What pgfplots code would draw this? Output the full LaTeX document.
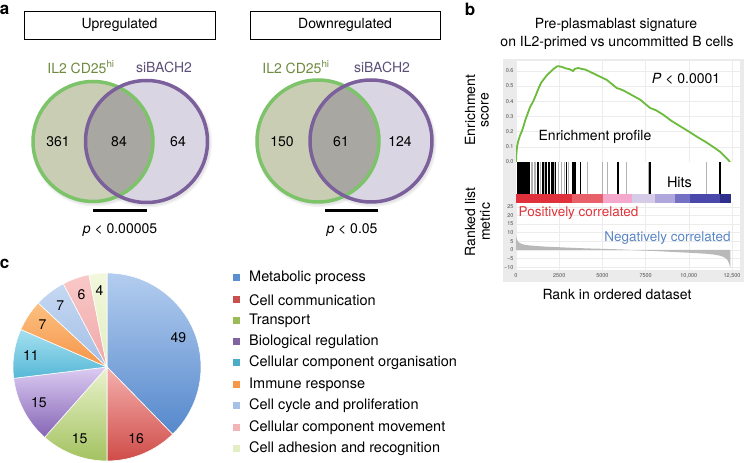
\documentclass[border=0pt]{standalone}
\usepackage{pgfplots}
\pgfplotsset{compat=1.18}
\usepackage{fontspec}
\setmainfont{TeX Gyre Heros}

\definecolor{vgreen}{HTML}{7DC36A}
\definecolor{vpurple}{HTML}{7B609C}
\definecolor{vgfill}{HTML}{C9CDB4}
\definecolor{vpfill}{HTML}{D9D5E3}
\definecolor{vint}{HTML}{A8A7A1}
\definecolor{iltext}{HTML}{6E8A3E}
\definecolor{sitext}{HTML}{5C5078}
\definecolor{esgreen}{HTML}{6CBB3C}
\definecolor{poscol}{HTML}{E0343A}
\definecolor{negcol}{HTML}{5A86C5}
\definecolor{framegray}{HTML}{EBEBEB}
% colour bar under the hits
\definecolor{cb1}{HTML}{E0303C}\definecolor{cb2}{HTML}{E8606A}
\definecolor{cb3}{HTML}{F4A8CC}\definecolor{cb4}{HTML}{D6CCE8}
\definecolor{cb5}{HTML}{B0A8DC}\definecolor{cb6}{HTML}{7470C4}
\definecolor{cb7}{HTML}{4A48AA}\definecolor{cb8}{HTML}{2E2E8C}
% pie: legend colour / light top / dark bottom
\definecolor{pA}{HTML}{5B8FD0}\definecolor{pAt}{HTML}{B3CDEF}\definecolor{pAb}{HTML}{5588CC}
\definecolor{pB}{HTML}{C9514D}\definecolor{pBt}{HTML}{F5B0AE}\definecolor{pBb}{HTML}{CF4C48}
\definecolor{pC}{HTML}{9BBB59}\definecolor{pCt}{HTML}{EAF3CD}\definecolor{pCb}{HTML}{A3C260}
\definecolor{pD}{HTML}{8064A2}\definecolor{pDt}{HTML}{DCCCF2}\definecolor{pDb}{HTML}{8565B5}
\definecolor{pE}{HTML}{4BACC6}\definecolor{pEt}{HTML}{A6E0F0}\definecolor{pEb}{HTML}{56B8D6}
\definecolor{pF}{HTML}{F79646}\definecolor{pFt}{HTML}{FCC080}\definecolor{pFb}{HTML}{F6954A}
\definecolor{pG}{HTML}{A7C0E8}\definecolor{pGt}{HTML}{C5D8F2}\definecolor{pGb}{HTML}{A4BFE6}
\definecolor{pH}{HTML}{F2B4B4}\definecolor{pHt}{HTML}{F9C8C8}\definecolor{pHb}{HTML}{F0A8A8}
\definecolor{pI}{HTML}{E4EEC4}\definecolor{pIt}{HTML}{F2F8DC}\definecolor{pIb}{HTML}{E2EDC0}

\newcommand\lab{\fontsize{14}{16}\selectfont}
\newcommand\leg{\fontsize{14.5}{16}\selectfont}
\newcommand\tickfont{\fontsize{5.5}{6}\selectfont}

% #1 genes before this slice, #2 genes in slice (total 130 -> 36/13 deg per gene)
\newcommand\slice[4]{%
  \path[draw=white, line width=0.6pt, top color=#3, bottom color=#4]
    (107,96) -- ++({90-#1*36/13}:94pt)
    arc[start angle={90-#1*36/13}, delta angle={-#2*36/13}, radius=94pt] -- cycle;
  \path (107,96) ++({90-(#1+#2/2)*36/13}:77pt) node[font=\lab] {#2};
}
\newcommand\legitem[3]{%
  \fill[#1] (233,#2-3.5) rectangle (240,#2+3.5);
  \node[font=\leg, anchor=west, inner sep=0pt] at (249,#2) {#3};
}
% colour bar segment from rank #1 to rank #2
\newcommand\cbar[3]{%
  \addplot[fill=#3, draw=none] coordinates {(#1,0) (#2,0) (#2,0.22) (#1,0.22)};
}
% soft shadow under a Venn circle: centre x, centre y, radius
\newcommand\vshadow[3]{%
  \fill[black, opacity=0.05] (#1+1.5,#2-2) circle[radius=#3+3pt];
  \fill[black, opacity=0.05] (#1+1.5,#2-2) circle[radius=#3+1.5pt];
}

\begin{document}
\begin{tikzpicture}[x=1pt,y=1pt]

\begin{axis}[at={(0pt,0pt)}, anchor=south west, scale only axis,
  width=745pt, height=463pt, xmin=0, xmax=745, ymin=0, ymax=463,
  hide axis, clip=false]

  % ---- panel a: upregulated
  \draw[line width=0.9pt] (24,452) rectangle (215,424);
  \node[font=\lab] at (119.5,438) {Upregulated};
  \vshadow{93}{321.5}{60pt}
  \vshadow{146.5}{321.5}{61pt}
  \fill[vgfill] (93,321.5) circle[radius=60pt];
  \fill[vpfill] (146.5,321.5) circle[radius=61pt];
  \begin{scope}
    \clip (93,321.5) circle[radius=60pt];
    \fill[vint] (146.5,321.5) circle[radius=61pt];
  \end{scope}
  \draw[vgreen, line width=3.5pt] (93,321.5) circle[radius=60pt];
  \draw[vpurple, line width=3.5pt] (146.5,321.5) circle[radius=61pt];
  \node[font=\lab, text=iltext] at (81,396) {IL2 CD25\textsuperscript{hi}};
  \node[font=\lab, text=sitext] at (164,396) {siBACH2};
  \node[font=\lab] at (58,321) {361};
  \node[font=\lab] at (119,321) {84};
  \node[font=\lab] at (178,321) {64};
  \draw[line width=3pt] (93,252) -- (147,252);
  \node[font=\lab] at (120,233) {\textit{p} < 0.00005};

  % ---- panel a: downregulated
  \draw[line width=0.9pt] (250,452) rectangle (440,424);
  \node[font=\lab] at (345,438) {Downregulated};
  \vshadow{318}{322}{61pt}
  \vshadow{371}{322}{61pt}
  \fill[vgfill] (318,322) circle[radius=61pt];
  \fill[vpfill] (371,322) circle[radius=61pt];
  \begin{scope}
    \clip (318,322) circle[radius=61pt];
    \fill[vint] (371,322) circle[radius=61pt];
  \end{scope}
  \draw[vgreen, line width=3.5pt] (318,322) circle[radius=61pt];
  \draw[vpurple, line width=3.5pt] (371,322) circle[radius=61pt];
  \node[font=\lab, text=iltext] at (296,396) {IL2 CD25\textsuperscript{hi}};
  \node[font=\lab, text=sitext] at (382,396) {siBACH2};
  \node[font=\lab] at (282,321) {150};
  \node[font=\lab] at (341,321) {61};
  \node[font=\lab] at (400,321) {124};
  \draw[line width=3pt] (325,252) -- (378,252);
  \node[font=\lab] at (352,233) {\textit{p} < 0.05};

  % ---- panel c: pie
  \slice{0}{49}{pAt}{pAb}
  \slice{49}{16}{pBt}{pBb}
  \slice{65}{15}{pCt}{pCb}
  \slice{80}{15}{pDt}{pDb}
  \slice{95}{11}{pEt}{pEb}
  \slice{106}{7}{pFt}{pFb}
  \slice{113}{7}{pGt}{pGb}
  \slice{120}{6}{pHt}{pHb}
  \slice{126}{4}{pIt}{pIb}

  \legitem{pA}{185}{Metabolic process}
  \legitem{pB}{163}{Cell communication}
  \legitem{pC}{142}{Transport}
  \legitem{pD}{121}{Biological regulation}
  \legitem{pE}{100}{Cellular component organisation}
  \legitem{pF}{78}{Immune response}
  \legitem{pG}{57}{Cell cycle and proliferation}
  \legitem{pH}{35}{Cellular component movement}
  \legitem{pI}{14}{Cell adhesion and recognition}

  % ---- panel b: frame
  \fill[framegray] (503,181) rectangle (744,404);
\end{axis}

% enrichment score
\begin{axis}[at={(516pt,301pt)}, anchor=south west, scale only axis,
  width=224pt, height=101pt, xmin=0, xmax=12960, ymin=0, ymax=0.664,
  axis background/.style={fill=white}, axis line style={draw=none},
  major tick length=0pt, grid=major, grid style={gray!15, line width=0.4pt},
  xtick={0,2500,5000,7500,10000,12500}, xticklabels={},
  ytick={0,0.1,0.2,0.3,0.4,0.5,0.6},
  yticklabel style={font=\tickfont, text=gray!60!black, xshift=1pt,
    /pgf/number format/fixed, /pgf/number format/fixed zerofill,
    /pgf/number format/precision=1, /pgf/number format/assume math mode=true}]
  \addplot[esgreen, line width=1.8pt, mark=none] coordinates {
    (0,0) (20,0.05) (60,0.1) (135,0.14) (250,0.18) (330,0.2) (450,0.24)
    (521,0.27) (650,0.31) (810,0.36) (1000,0.40) (1150,0.44) (1290,0.48)
    (1450,0.52) (1680,0.555) (1830,0.575) (1970,0.59) (2150,0.61)
    (2350,0.627) (2450,0.63) (2650,0.625) (2900,0.615) (3100,0.61)
    (3300,0.598) (3400,0.612) (3600,0.618) (3800,0.612) (4000,0.608)
    (4280,0.593) (4700,0.57) (5250,0.54) (5830,0.486) (6000,0.48)
    (6220,0.47) (6700,0.44) (7180,0.41) (7760,0.355) (8100,0.34)
    (8530,0.31) (9000,0.27) (9500,0.235) (10000,0.2) (10470,0.166)
    (11000,0.13) (11400,0.1) (11810,0.067) (12100,0.035) (12390,0)
  };
\end{axis}

% hits and ranked list colour bar
\begin{axis}[at={(516pt,260pt)}, anchor=south west, scale only axis,
  width=224pt, height=41pt, xmin=0, xmax=12960, ymin=0, ymax=1,
  axis background/.style={fill=white}, axis line style={draw=none}, ticks=none]
  \addplot[fill=black, draw=none] coordinates {(40,0) (810,0) (810,1) (40,1)};
  \addplot[ycomb, gray!60, line width=1pt, mark=none] coordinates {
    (887,1) (964,1) (1042,1) (1119,1) (1410,1) (1660,1) (2200,1) (2469,1)
    (2624,1) (2797,1) (3048,1) (4128,1) (4977,1) (5266,1) (6366,1)
    (7678,1) (11036,1)
  };
  \addplot[ycomb, black, line width=1.2pt, mark=none] coordinates {
    (1234,1) (1292,1) (1524,1) (1601,1) (1717,1) (1775,1) (1871,1)
    (1948,1) (2064,1) (2141,1) (2296,1) (2913,1) (3299,1) (3357,1)
    (3453,1) (3742,1) (5864,1) (5941,1) (7755,1) (11805,1)
  };
  \cbar{0}{3240}{cb1}
  \cbar{3240}{5054}{cb2}
  \cbar{5054}{6693}{cb3}
  \cbar{6693}{8044}{cb4}
  \cbar{8044}{9201}{cb5}
  \cbar{9201}{10069}{cb6}
  \cbar{10069}{11805}{cb7}
  \cbar{11805}{12424}{cb8}
\end{axis}

% ranked list metric
\begin{axis}[at={(516pt,193pt)}, anchor=south west, scale only axis,
  width=224pt, height=67pt, xmin=0, xmax=12960, ymin=-11.6, ymax=27.2,
  axis background/.style={fill=white}, axis line style={draw=none},
  major tick length=0pt, grid=major, grid style={gray!15, line width=0.4pt},
  xtick={0,2500,5000,7500,10000,12500}, ytick={-10,-5,0,5,10,15,20,25},
  yticklabels={−10,−5,0,5,10,15,20,25},
  scaled x ticks=false,
  xticklabel style={font=\tickfont, text=gray!60!black,
    /pgf/number format/1000 sep={,},
    /pgf/number format/min exponent for 1000 sep=4,
    /pgf/number format/assume math mode=true},
  yticklabel style={font=\tickfont, text=gray!60!black, xshift=1pt}]
  \addplot[fill=gray!55, draw=none, mark=none] coordinates {
    (0,0) (0,8) (30,7) (80,5.5) (150,4.5) (300,3.6) (500,3) (800,2.6)
    (1200,2.3) (1600,2.0) (2000,1.8) (2500,1.6) (3000,1.35) (3500,1.15)
    (4000,0.95) (4500,0.8) (5000,0.65) (5500,0.5) (6000,0.35) (6500,0.15)
    (6700,0) (7000,-0.2) (7500,-0.4) (8000,-0.6) (8500,-0.85) (9000,-1.1)
    (9500,-1.35) (10000,-1.6) (10500,-1.9) (11000,-2.2) (11400,-2.6)
    (11700,-3.1) (11950,-3.8) (12100,-4.6) (12250,-6) (12350,-8.5)
    (12400,-10.5) (12410,0)
  };
\end{axis}

% panel letters and panel b text
\node[font=\fontsize{17}{17}\selectfont\bfseries] at (4.5,453) {a};
\node[font=\fontsize{17}{17}\selectfont\bfseries] at (470,454) {b};
\node[font=\fontsize{17}{17}\selectfont\bfseries] at (4.5,199) {c};
\node[font=\lab] at (616,438) {Pre-plasmablast signature};
\node[font=\lab] at (617,420) {on IL2-primed vs uncommitted B cells};
\node[font=\lab, rotate=90] at (470,353) {Enrichment};
\node[font=\lab, rotate=90] at (485,353) {score};
\node[font=\lab, rotate=90] at (470,241) {Ranked list};
\node[font=\lab, rotate=90] at (485,241) {metric};
\node[font=\lab] at (686,384) {\textit{P} < 0.0001};
\node[font=\lab] at (595,326) {Enrichment profile};
\node[font=\fontsize{14.5}{16}\selectfont] at (679.5,281) {Hits};
\node[font=\fontsize{13.5}{16}\selectfont, text=poscol] at (578.5,250) {Positively correlated};
\node[font=\fontsize{13.5}{16}\selectfont, text=negcol] at (667.5,225) {Negatively correlated};
\node[font=\lab] at (617,168) {Rank in ordered dataset};

\pgfresetboundingbox
\useasboundingbox (0,0) rectangle (745,463);
\end{tikzpicture}
\end{document}
